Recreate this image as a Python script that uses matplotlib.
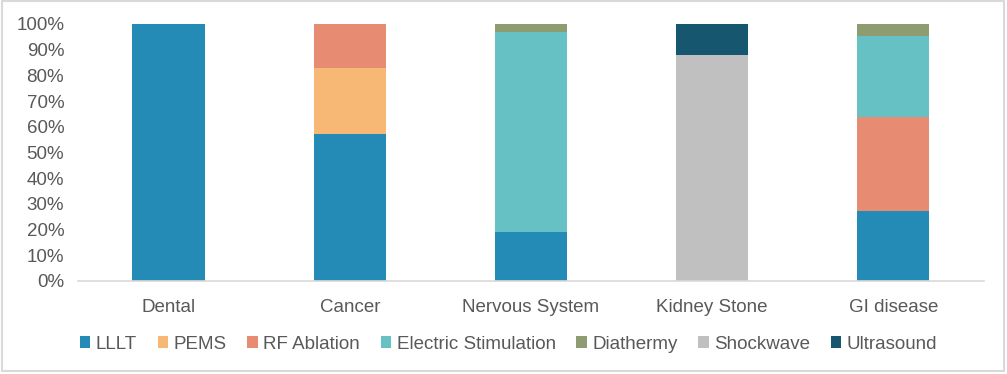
import matplotlib
matplotlib.use("Agg")
import matplotlib.pyplot as plt
from matplotlib.patches import Rectangle
from matplotlib.ticker import PercentFormatter, MultipleLocator
import numpy as np

plt.rcParams['font.family'] = ['Liberation Sans', 'DejaVu Sans']

categories = ["Dental", "Cancer", "Nervous System", "Kidney Stone", "GI disease"]
series_names = ["LLLT", "PEMS", "RF Ablation", "Electric Stimulation", "Diathermy", "Shockwave", "Ultrasound"]
lllt = [1.00, 0.57, 0.19, 0.00, 0.273]
pems = [0.00, 0.26, 0.00, 0.00, 0.00]
rf_ablation = [0.00, 0.17, 0.00, 0.00, 0.364]
electric = [0.00, 0.00, 0.78, 0.00, 0.318]
diathermy = [0.00, 0.00, 0.03, 0.00, 0.045]
shockwave = [0.00, 0.00, 0.00, 0.88, 0.00]
ultrasound = [0.00, 0.00, 0.00, 0.12, 0.00]
colors = ["#238BB5", "#F6B874", "#E88B73", "#66C1C5", "#8F9B70", "#C0C0C0", "#17566F"]

series = [lllt, pems, rf_ablation, electric, diathermy, shockwave, ultrasound]

fig = plt.figure(figsize=(10.07, 3.74), dpi=100)
ax = fig.add_axes([0.0775, 0.2487, 0.8995, 0.6873])

x = np.arange(len(categories))
bottom = np.zeros(len(categories))
for name, vals, c in zip(series_names, series, colors):
    vals = np.array(vals)
    ax.bar(x, vals, bottom=bottom, width=0.4, color=c, label=name, linewidth=0)
    bottom += vals

txt = "#595959"
ax.set_xlim(-0.5, len(categories) - 0.5)
ax.set_ylim(0, 1)
ax.yaxis.set_major_locator(MultipleLocator(0.1))
ax.yaxis.set_major_formatter(PercentFormatter(1.0, decimals=0))
ax.set_xticks(x)
ax.set_xticklabels(categories)
for s in ["top", "right", "left"]:
    ax.spines[s].set_visible(False)
ax.spines["bottom"].set_color("#D9D9D9")
ax.spines["bottom"].set_linewidth(1.2)
ax.tick_params(axis="both", length=0, labelsize=13.5, colors=txt)
ax.tick_params(axis="x", pad=13)
ax.tick_params(axis="y", pad=10)

leg = fig.legend(loc="center", bbox_to_anchor=(0.505, 0.08), ncol=7, frameon=False,
                 fontsize=13.5, handlelength=0.55, handleheight=0.55, handletextpad=0.3,
                 columnspacing=1.1, labelcolor=txt)

fig.patches.append(Rectangle((0.0015, 0.008), 0.9955, 0.989, transform=fig.transFigure,
                             fill=False, edgecolor="#D9D9D9", linewidth=1.5))

fig.savefig("out.png", dpi=100)
